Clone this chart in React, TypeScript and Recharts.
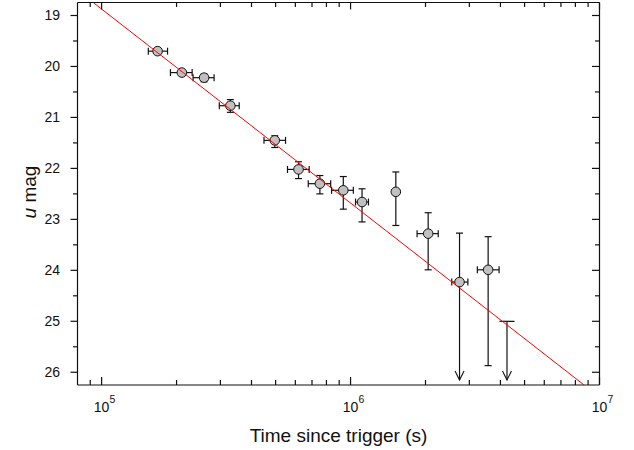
import React from 'react';
import { ComposedChart, Scatter, XAxis, YAxis, ErrorBar } from 'recharts';

// detections: time since trigger (s) and u magnitude, plus error bar ends
const times = [1.678e5, 2.1e5, 2.58e5, 3.29e5, 4.96e5, 6.18e5, 7.53e5, 9.35e5, 1.112e6, 1.52e6, 2.05e6, 2.74e6, 3.57e6];
const mags = [19.7, 20.12, 20.22, 20.77, 21.45, 22.02, 22.3, 22.43, 22.66, 22.46, 23.28, 24.23, 23.99];
const timeLow = [1.54e5, 1.89e5, 2.33e5, 2.97e5, 4.49e5, 5.58e5, 6.76e5, 8.39e5, 1.047e6, null, 1.85e6, 2.55e6, 3.23e6];
const timeHigh = [1.84e5, 2.31e5, 2.83e5, 3.57e5, 5.48e5, 6.82e5, 8.32e5, 1.026e6, 1.18e6, null, 2.25e6, 2.96e6, 3.95e6];
const magTop = [19.65, 20.08, 20.15, 20.65, 21.36, 21.87, 22.14, 22.16, 22.4, 22.07, 22.87, null, 23.34];
const magBottom = [19.75, 20.16, 20.3, 20.9, 21.59, 22.2, 22.5, 22.8, 23.05, 23.12, 23.99, null, 25.87];

// limits drawn as a bar ending in a down arrow
const limitTimes = [2.74e6, 4.25e6];
const limitTops = [23.27, 25.0];
const limitTip = 26.15;

// power-law fit (red line), end points
const fitTimes = [9.25e4, 8.67e6];
const fitMags = [18.745, 26.25];

const xMajor = [1e5, 1e6, 1e7];
const xMinor = [9e4, 2e5, 3e5, 4e5, 5e5, 6e5, 7e5, 8e5, 9e5, 2e6, 3e6, 4e6, 5e6, 6e6, 7e6, 8e6, 9e6];
const yMajor = [19, 20, 21, 22, 23, 24, 25, 26];
const yMinor = [19.5, 20.5, 21.5, 22.5, 23.5, 24.5, 25.5];

const FONT = '"Liberation Sans", Arial, sans-serif';
const INK = '#111';
const LIMIT_CAP = [3.5, 7.5];
const X_DOMAIN = [8e4, 1e7];
const Y_DOMAIN = [18.745, 26.25];

const points = times.map((t, i) => ({
  t,
  m: mags[i],
  xErr: timeLow[i] != null ? [t - (timeLow[i] as number), (timeHigh[i] as number) - t] : undefined,
  yErr: magTop[i] != null ? [mags[i] - (magTop[i] as number), (magBottom[i] as number) - mags[i]] : undefined,
}));
const fit = fitTimes.map((t, i) => ({ t, m: fitMags[i] }));
const xTicks = [...xMinor, ...xMajor].sort((a, b) => a - b);
const yTicks = [...yMajor, ...yMinor].sort((a, b) => a - b);

const BottomTick = (props: any) => {
  const { x, y, payload } = props;
  const major = xMajor.includes(payload.value);
  return (
    <g>
      <line x1={x} x2={x} y1={y} y2={y - (major ? 8 : 5)} stroke={INK} strokeWidth={1.2} />
      {major && (
        <g fontFamily={FONT} fill={INK}>
          <text x={x} y={y + 27} textAnchor="middle" fontSize={14}>10</text>
          <text x={x + 8} y={y + 18} fontSize={10.5}>{Math.round(Math.log10(payload.value))}</text>
        </g>
      )}
    </g>
  );
};

const TopTick = (props: any) => {
  const { x, y, payload } = props;
  const major = xMajor.includes(payload.value);
  return <line x1={x} x2={x} y1={y} y2={y + (major ? 7 : 4.5)} stroke={INK} strokeWidth={1.2} />;
};

const LeftTick = (props: any) => {
  const { x, y, payload } = props;
  const major = Number.isInteger(payload.value);
  return (
    <g>
      <line x1={x} x2={x - (major ? 7 : 4.5)} y1={y} y2={y} stroke={INK} strokeWidth={1.2} />
      {major && (
        <text x={x - 17.5} y={y + 5} textAnchor="end" fontSize={14} fontFamily={FONT} fill={INK}>
          {payload.value}
        </text>
      )}
    </g>
  );
};

const RightTick = (props: any) => {
  const { x, y, payload } = props;
  const major = Number.isInteger(payload.value);
  return <line x1={x} x2={x - (major ? 7.5 : 4.5)} y1={y} y2={y} stroke={INK} strokeWidth={1.2} />;
};

const Dot = (props: any) => (
  <circle cx={props.cx} cy={props.cy} r={4.8} fill="#c0c0c0" stroke={INK} strokeWidth={1} />
);

const LimitEnd = (props: any) => {
  const { cx, cy, payload, cap } = props;
  if (payload.kind === 'tip') {
    return <path d={`M${cx - 4.5},${cy - 9}L${cx},${cy}L${cx + 4.5},${cy - 9}`} fill="none" stroke={INK} strokeWidth={1.1} />;
  }
  return <line x1={cx - cap} x2={cx + cap} y1={cy} y2={cy} stroke={INK} strokeWidth={1.2} />;
};

const Nothing = () => <g />;

export default function App() {
  const axisLine = { stroke: INK, strokeWidth: 1.2 };
  return (
    <div style={{ position: 'absolute', left: 0, top: 0, background: '#fff' }}>
      <ComposedChart width={634} height={450} margin={{ top: 1.5, right: 33.5, bottom: 0, left: 0 }}>
        <XAxis
          dataKey="t"
          type="number"
          scale="log"
          domain={X_DOMAIN}
          allowDataOverflow
          ticks={xTicks}
          interval={0}
          tick={<BottomTick />}
          tickLine={false}
          tickSize={0}
          tickMargin={0}
          axisLine={axisLine}
          height={65}
          label={{
            content: (p: any) => (
              <text
                x={p.viewBox.x + p.viewBox.width / 2}
                y={442}
                textAnchor="middle"
                fontSize={19}
                fontFamily={FONT}
                fill={INK}
              >
                Time since trigger (s)
              </text>
            ),
          }}
        />
        <XAxis
          xAxisId="top"
          orientation="top"
          dataKey="t"
          type="number"
          scale="log"
          domain={X_DOMAIN}
          allowDataOverflow
          ticks={xTicks}
          interval={0}
          tick={<TopTick />}
          tickLine={false}
          tickSize={0}
          tickMargin={0}
          axisLine={axisLine}
          height={1}
        />
        <YAxis
          dataKey="m"
          type="number"
          reversed
          domain={Y_DOMAIN}
          allowDataOverflow
          ticks={yTicks}
          interval={0}
          tick={<LeftTick />}
          tickLine={false}
          tickSize={0}
          tickMargin={0}
          axisLine={axisLine}
          width={77.5}
          label={{
            content: () => (
              <text
                transform="translate(36,192) rotate(-90)"
                textAnchor="middle"
                fontSize={19}
                fontFamily={FONT}
                fill={INK}
              >
                <tspan fontStyle="italic">u</tspan> mag
              </text>
            ),
          }}
        />
        <YAxis
          yAxisId="right"
          orientation="right"
          dataKey="m"
          type="number"
          reversed
          domain={Y_DOMAIN}
          allowDataOverflow
          ticks={yTicks}
          interval={0}
          tick={<RightTick />}
          tickLine={false}
          tickSize={0}
          tickMargin={0}
          axisLine={axisLine}
          width={1}
        />

        {/* keeps the top and right frame axes alive */}
        <Scatter xAxisId="top" yAxisId="right" data={fit} shape={Nothing} isAnimationActive={false} />

        {limitTimes.map((t, i) => (
          <Scatter
            key={`lim-${i}`}
            data={[
              { t, m: limitTops[i], kind: 'cap' },
              { t, m: limitTip, kind: 'tip' },
            ]}
            line={{ stroke: INK, strokeWidth: 1.2 }}
            shape={(p: any) => <LimitEnd {...p} cap={LIMIT_CAP[i]} />}
            isAnimationActive={false}
          />
        ))}

        <Scatter data={points} shape={Nothing} isAnimationActive={false}>
          <ErrorBar dataKey="xErr" direction="x" width={3.5} stroke={INK} strokeWidth={1.2} isAnimationActive={false} />
          <ErrorBar dataKey="yErr" direction="y" width={3.5} stroke={INK} strokeWidth={1.2} isAnimationActive={false} />
        </Scatter>

        <Scatter data={points} shape={Dot} isAnimationActive={false} />

        <Scatter
          data={fit}
          line={{ stroke: '#ff0000', strokeWidth: 1 }}
          shape={Nothing}
          isAnimationActive={false}
        />
      </ComposedChart>
    </div>
  );
}
